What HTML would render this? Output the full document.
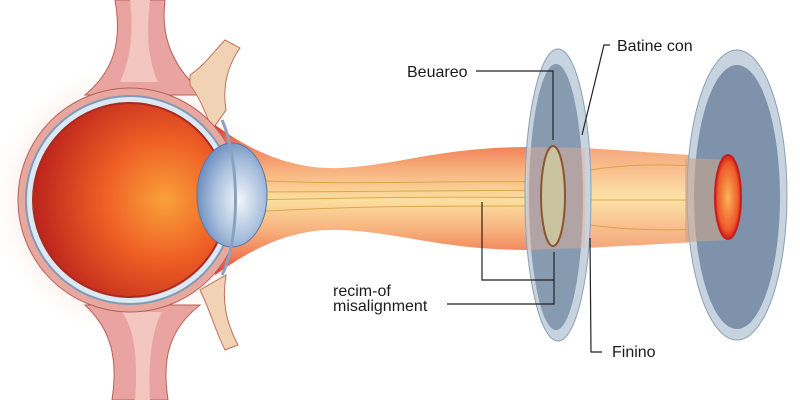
<!DOCTYPE html>
<html><head><meta charset="utf-8"><style>body{margin:0;background:#fff}svg{display:block}</style></head><body>
<svg width="800" height="400" viewBox="0 0 800 400" xmlns="http://www.w3.org/2000/svg">
<defs>
<radialGradient id="eye" cx="0.68" cy="0.5" r="0.7">
<stop offset="0" stop-color="#f9a23a"/><stop offset="0.45" stop-color="#ef5e25"/><stop offset="1" stop-color="#b8201c"/></radialGradient>
<radialGradient id="lens" cx="0.6" cy="0.55" r="0.6">
<stop offset="0" stop-color="#f2f6fb"/><stop offset="0.6" stop-color="#a9c0dd"/><stop offset="1" stop-color="#6f8fbf"/></radialGradient>
<linearGradient id="beam" x1="0" y1="0" x2="0" y2="1">
<stop offset="0" stop-color="#e0352c"/><stop offset="0.12" stop-color="#f07a55"/><stop offset="0.3" stop-color="#f8b27e"/><stop offset="0.5" stop-color="#fbe0a0"/><stop offset="0.7" stop-color="#f8b27e"/><stop offset="0.88" stop-color="#f07a55"/><stop offset="1" stop-color="#e0352c"/></linearGradient>
<linearGradient id="beam2" x1="0" y1="0" x2="0" y2="1">
<stop offset="0" stop-color="#f5a77c"/><stop offset="0.5" stop-color="#fde2a8"/><stop offset="1" stop-color="#f5a77c"/></linearGradient>
<radialGradient id="spot" cx="0.5" cy="0.5" r="0.5"><stop offset="0" stop-color="#fbb35a"/><stop offset="0.8" stop-color="#ee5a2a"/><stop offset="1" stop-color="#d11f1f"/></radialGradient>
<radialGradient id="halo" cx="0.5" cy="0.5" r="0.5"><stop offset="0.7" stop-color="#fbe6da"/><stop offset="1" stop-color="#fff" stop-opacity="0"/></radialGradient>
</defs>
<circle cx="130" cy="200" r="140" fill="url(#halo)"/>
<!-- vessels -->
<path d="M115 0 C122 40 115 70 85 95 L205 95 C175 70 160 40 165 0 Z" fill="#e9a3a0" stroke="#b8605a"/>
<path d="M130 0 C134 35 130 60 120 82 L158 82 C148 60 146 35 150 0 Z" fill="#f3c6c0"/>
<path d="M190 75 C205 65 215 50 225 40 L240 48 C228 65 222 85 226 110 L212 130 C205 110 198 95 190 85 Z" fill="#f2d2b5" stroke="#c0705a"/>
<path d="M85 305 C112 330 118 360 112 400 L168 400 C162 360 168 330 200 305 Z" fill="#e9a3a0" stroke="#b8605a"/>
<path d="M122 312 C135 330 138 360 135 400 L150 400 C148 360 152 330 162 312 Z" fill="#f3c6c0"/>
<path d="M200 290 C210 310 215 330 225 350 L238 345 C225 320 222 300 226 275 Z" fill="#f2d2b5" stroke="#c0705a"/>
<!-- beam -->
<path d="M215 125 C250 150 290 170 340 168 C400 165 440 147 530 147 L530 250 C440 250 400 232 340 230 C290 228 250 250 215 275 Z" fill="url(#beam)"/>
<path d="M585 148 L735 158 L735 240 L585 248 Z" fill="url(#beam2)"/>
<g stroke="#d99a3a" stroke-width="1" fill="none" opacity="0.8">
<path d="M250 180 C350 186 420 180 560 182"/><path d="M250 192 C350 192 420 190 560 190"/><path d="M250 200 C350 198 420 196 560 198"/><path d="M250 212 C350 206 420 206 560 206"/>
<path d="M590 170 C640 162 690 165 720 168"/><path d="M590 200 L720 200"/><path d="M590 225 C640 232 690 230 720 228"/></g>
<!-- eye -->
<circle cx="130" cy="200" r="112" fill="#e8a8a0" stroke="#b8605a"/>
<circle cx="130" cy="200" r="104" fill="#dce8f2" stroke="#7f9bb8" stroke-width="2"/>
<circle cx="130" cy="200" r="97" fill="url(#eye)" stroke="#a82a22" stroke-width="2"/>
<ellipse cx="232" cy="195" rx="35" ry="52" fill="url(#lens)" stroke="#5a78a8"/>
<path d="M222 120 C240 160 240 240 222 275" stroke="#8aa2bf" stroke-width="3" fill="none"/>
<!-- disc 1 -->
<ellipse cx="558" cy="195" rx="33" ry="146" fill="#c7d4df" stroke="#8aa0b6"/>
<ellipse cx="556" cy="197" rx="27" ry="133" fill="#7e93ab" opacity="0.9"/>
<path d="M527 147 L585 148 L585 248 L527 250 Z" fill="#e8b29a" opacity="0.45"/>
<ellipse cx="553" cy="196" rx="12" ry="50" fill="#c9c3a0" stroke="#8a5530" stroke-width="2"/>
<!-- disc 2 -->
<ellipse cx="737" cy="195" rx="50" ry="145" fill="#c7d4df" stroke="#8aa0b6"/>
<ellipse cx="737" cy="197" rx="43" ry="132" fill="#7e93ab"/>
<path d="M685 158 L730 160 L730 240 L685 242 Z" fill="#c9a58c" opacity="0.6"/>
<ellipse cx="728" cy="197" rx="13" ry="42" fill="url(#spot)" stroke="#c81e1e" stroke-width="2"/>
<!-- labels -->
<g stroke="#222" stroke-width="1.2" fill="none">
<path d="M476 71 L553 71 L553 140"/><path d="M610 45 L604 45 L582 135"/>
<path d="M447 304 L554 304 L554 252"/><path d="M482 202 L482 280 L554 280"/>
<path d="M590 238 L591 352 L602 352"/></g>
<g font-family="Liberation Sans, sans-serif" font-size="16" fill="#1a1a1a">
<text x="407" y="77">Beuareo</text><text x="617" y="51">Batine con</text>
<text x="333" y="296">recim-of</text><text x="333" y="311">misalignment</text>
<text x="612" y="357">Finino</text></g>
</svg>
</body></html>
